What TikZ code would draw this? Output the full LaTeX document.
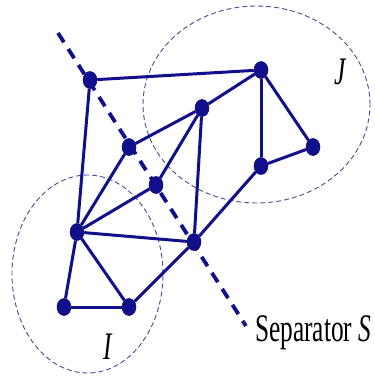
\documentclass[tikz,border=0pt]{standalone}
\usepackage{fontspec}
\setmainfont{Liberation Serif}
\usepackage{tikz}
\usetikzlibrary{shapes.geometric}
\definecolor{graphBlue}{HTML}{10108C}
\definecolor{regionBlue}{HTML}{4A4A96}
\newcommand{\squash}[1]{\scalebox{0.65}[1]{#1}}

\begin{document}
\begin{tikzpicture}[
    x=1pt, y=-1pt,
    edge/.style={draw=graphBlue, line width=3pt},
    vtx/.style={ellipse, fill=graphBlue, draw=graphBlue!70!black, line width=0.5pt,
                minimum width=14pt, minimum height=17pt, inner sep=0pt},
    region/.style={draw=regionBlue, line width=0.9pt, dash pattern=on 5pt off 3pt},
    sepline/.style={draw=graphBlue, line width=3.8pt, dash pattern=on 11pt off 8pt},
    lbl/.style={font=\fontsize{39}{39}\selectfont, inner sep=0pt, text=black},
]
  \useasboundingbox (0,0) rectangle (375,381);
  % regions I and J
  \draw[region] (256.5,104.5) ellipse [x radius=113.5pt, y radius=98.5pt];
  \draw[region] (87.5,274) ellipse [x radius=75.5pt, y radius=99pt];
  % separator S
  \coordinate (stop) at (58,33);
  \coordinate (sbot) at (246,326);
  \draw[sepline] (stop) -- (sbot);
  % vertices
  \node[vtx] (a) at (90,80) {};
  \node[vtx] (b) at (261,70) {};
  \node[vtx] (c) at (202,108) {};
  \node[vtx] (d) at (129,147) {};
  \node[vtx] (e) at (156,185) {};
  \node[vtx] (f) at (261,166) {};
  \node[vtx] (g) at (313,147) {};
  \node[vtx] (h) at (77,232) {};
  \node[vtx] (k) at (194,242) {};
  \node[vtx] (l) at (64,307) {};
  \node[vtx] (m) at (129,307) {};
  % edges
  \draw[edge] (a) -- (b);
  \draw[edge] (a) -- (h);
  \draw[edge] (b) -- (c);
  \draw[edge] (b) -- (f);
  \draw[edge] (b) -- (g);
  \draw[edge] (f) -- (g);
  \draw[edge] (f) -- (k);
  \draw[edge] (c) -- (d);
  \draw[edge] (c) -- (e);
  \draw[edge] (c) -- (k);
  \draw[edge] (d) -- (h);
  \draw[edge] (e) -- (h);
  \draw[edge] (h) -- (k);
  \draw[edge] (h) -- (l);
  \draw[edge] (h) -- (m);
  \draw[edge] (l) -- (m);
  \draw[edge] (m) -- (k);
  % labels
  \node[lbl] (jlab) at (341,72) {\squash{\textit{J}}};
  \node[lbl] (ilab) at (108,347) {\squash{\textit{I}}};
  \node[lbl, anchor=base west] (slab) at (255,341) {\squash{Separator \textit{S}}};
\end{tikzpicture}
\end{document}
